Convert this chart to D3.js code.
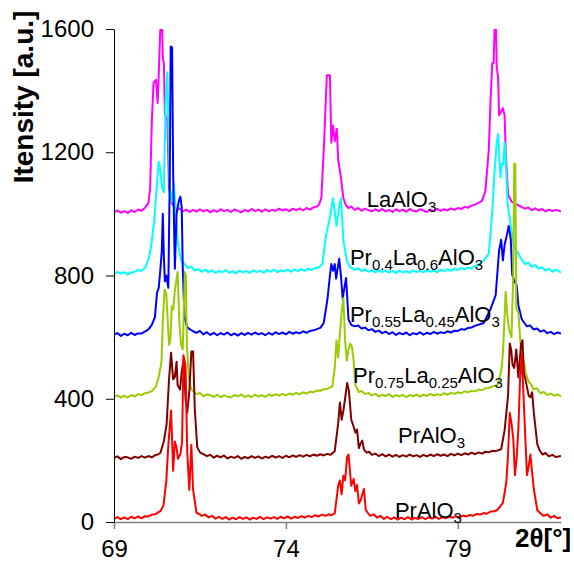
<!DOCTYPE html>
<html>
<head>
<meta charset="utf-8">
<script src="https://cdn.jsdelivr.net/npm/d3@7"></script>
<style>
  body { margin: 0; background: #fff; }
  svg { display: block; font-family: "Liberation Sans", Arial, sans-serif; }
</style>
</head>
<body>
<div id="chart"></div>
<script>
// tick labels
const xTicks = [69, 74, 79]
const yTicks = [0, 400, 800, 1200, 1600]

// series labels, [text, isSubscript]
const labelParts = [
    [['LaAlO', 0], ['3', 1]],
    [['Pr', 0], ['0.4', 1], ['La', 0], ['0.6', 1], ['AlO', 0], ['3', 1]],
    [['Pr', 0], ['0.55', 1], ['La', 0], ['0.45', 1], ['AlO', 0], ['3', 1]],
    [['Pr', 0], ['0.75', 1], ['La', 0], ['0.25', 1], ['AlO', 0], ['3', 1]],
    [['PrAlO', 0], ['3', 1]],
    [['PrAlO', 0], ['3', 1]]
]

// patterns, [2theta, intensity] (already offset)
const laAlO3 = [
    [69.0, 1005], [69.1, 1011], [69.2, 1004], [69.3, 1009], [69.4, 1003], [69.5, 1012], [69.6, 1006], [69.7, 1014],
    [69.8, 1010], [69.9, 1020], [70.0, 1035], [70.05, 1080],
    [70.1, 1300], [70.15, 1426], [70.22, 1435], [70.27, 1360], [70.31, 1480], [70.35, 1610], [70.4, 1610], [70.42, 1504],
    [70.45, 1490], [70.48, 1325], [70.55, 1305], [70.6, 1085], [70.68, 1035], [70.75, 1023], [70.82, 1012], [70.9, 1018],
    [71.0, 1008], [71.1, 1014], [71.2, 1006], [71.3, 1013], [71.4, 1007], [71.5, 1015], [71.6, 1008], [71.7, 1013],
    [71.8, 1005], [71.9, 1012], [72.0, 1007], [72.1, 1015], [72.2, 1009], [72.3, 1013], [72.4, 1006], [72.5, 1014],
    [72.6, 1010], [72.7, 1005], [72.8, 1013], [72.9, 1008], [73.0, 1016], [73.1, 1009], [73.2, 1014], [73.3, 1007],
    [73.4, 1015], [73.5, 1008], [73.6, 1013], [73.7, 1010], [73.8, 1017], [73.9, 1011], [74.0, 1015], [74.1, 1009],
    [74.2, 1017], [74.3, 1012], [74.4, 1018], [74.5, 1011], [74.6, 1019], [74.7, 1014], [74.8, 1021], [74.9, 1024],
    [74.96, 1030], [75.03, 1051], [75.11, 1231], [75.19, 1450], [75.28, 1450],
    [75.32, 1231], [75.37, 1287], [75.42, 1236], [75.48, 1276], [75.52, 1175], [75.6, 1118], [75.67, 1051], [75.75, 1027],
    [75.82, 1019], [75.9, 1024], [76.0, 1013], [76.1, 1019], [76.2, 1010], [76.3, 1017], [76.4, 1012], [76.5, 1008],
    [76.6, 1015], [76.7, 1009], [76.8, 1016], [76.9, 1008], [77.0, 1013], [77.1, 1006], [77.2, 1015], [77.3, 1009],
    [77.4, 1014], [77.5, 1007], [77.6, 1016], [77.7, 1010], [77.8, 1008], [77.9, 1015], [78.0, 1011], [78.1, 1006],
    [78.2, 1014], [78.3, 1009], [78.4, 1016], [78.5, 1010], [78.6, 1015], [78.7, 1011], [78.8, 1018], [78.9, 1013],
    [79.0, 1019], [79.1, 1016], [79.2, 1023], [79.3, 1020], [79.4, 1027], [79.5, 1030], [79.6, 1036], [79.7, 1042],
    [79.8, 1073], [79.9, 1208], [79.95, 1366],
    [80.0, 1489], [80.04, 1489], [80.07, 1610], [80.11, 1610], [80.13, 1478], [80.17, 1444], [80.2, 1320], [80.26, 1332],
    [80.31, 1343], [80.36, 1320], [80.39, 1208], [80.46, 1062], [80.56, 1040], [80.66, 1033], [80.76, 1028], [80.86, 1022],
    [80.95, 1017], [81.05, 1021], [81.15, 1012], [81.25, 1018], [81.35, 1011], [81.45, 1016], [81.55, 1008], [81.65, 1014],
    [81.75, 1009], [81.85, 1013], [82.0, 1008]
]
const pr04La06 = [
    [69.0, 805], [69.1, 812], [69.2, 806], [69.3, 811], [69.4, 803], [69.5, 810], [69.6, 812], [69.7, 818],
    [69.8, 815], [69.9, 825], [70.0, 850], [70.08, 894],
    [70.17, 978], [70.23, 1068], [70.3, 1169], [70.34, 1147], [70.4, 1085], [70.45, 1070], [70.5, 1359], [70.55, 1460],
    [70.58, 1300], [70.62, 1085], [70.68, 1040], [70.74, 1100], [70.8, 1000], [70.85, 912], [70.91, 870], [70.97, 845],
    [71.05, 838], [71.15, 824], [71.25, 829], [71.35, 816], [71.45, 821], [71.55, 812], [71.65, 819], [71.75, 811],
    [71.85, 817], [71.95, 808], [72.05, 815], [72.15, 810], [72.25, 818], [72.35, 809], [72.45, 814], [72.55, 807],
    [72.65, 816], [72.75, 810], [72.85, 815], [72.95, 808], [73.05, 817], [73.15, 811], [73.25, 816], [73.35, 809],
    [73.45, 818], [73.55, 812], [73.65, 819], [73.75, 811], [73.85, 817], [73.95, 813], [74.05, 819], [74.15, 812],
    [74.25, 820], [74.35, 814], [74.45, 821], [74.55, 815], [74.65, 822], [74.75, 818], [74.85, 824], [74.95, 826],
    [75.06, 837], [75.16, 927], [75.27, 983], [75.37, 1051], [75.42, 1006],
    [75.47, 961], [75.54, 1017], [75.6, 1051], [75.67, 916], [75.77, 849], [75.85, 830], [75.92, 824], [76.0, 818],
    [76.1, 824], [76.2, 814], [76.3, 820], [76.4, 812], [76.5, 818], [76.6, 810], [76.7, 817], [76.8, 811],
    [76.9, 816], [77.0, 809], [77.1, 815], [77.2, 808], [77.3, 816], [77.4, 810], [77.5, 814], [77.6, 809],
    [77.7, 817], [77.8, 811], [77.9, 815], [78.0, 810], [78.1, 818], [78.2, 812], [78.3, 816], [78.4, 811],
    [78.5, 819], [78.6, 814], [78.7, 820], [78.8, 815], [78.9, 822], [79.0, 818], [79.1, 824], [79.2, 820],
    [79.3, 826], [79.4, 823], [79.5, 830], [79.6, 835], [79.75, 849], [79.9, 871],
    [80.0, 1006], [80.07, 1141], [80.13, 1231], [80.17, 1259], [80.24, 1118], [80.28, 1163],
    [80.32, 1160], [80.36, 1231], [80.39, 1190], [80.44, 1040], [80.51, 983], [80.61, 905], [80.68, 884], [80.76, 871],
    [80.86, 852], [80.96, 837], [81.05, 842], [81.15, 828], [81.25, 834], [81.35, 822], [81.45, 827], [81.55, 816],
    [81.65, 822], [81.75, 812], [81.85, 818], [82.0, 810]
]
const pr055La045 = [
    [69.0, 608], [69.1, 613], [69.2, 604], [69.3, 611], [69.4, 606], [69.5, 614], [69.6, 607], [69.7, 612],
    [69.8, 612], [69.9, 618], [70.0, 625], [70.1, 640],
    [70.19, 665], [70.25, 743], [70.3, 760], [70.35, 822], [70.39, 880], [70.42, 1000], [70.45, 860], [70.48, 781],
    [70.52, 800], [70.58, 760], [70.62, 1100], [70.65, 1543], [70.69, 1540], [70.72, 1135], [70.77, 822], [70.82, 1000],
    [70.88, 1040], [70.93, 1056], [70.97, 1020], [71.0, 822], [71.05, 665], [71.13, 632], [71.2, 626], [71.3, 619],
    [71.4, 614], [71.5, 620], [71.6, 609], [71.7, 616], [71.8, 607], [71.9, 614], [72.0, 606], [72.1, 613],
    [72.2, 608], [72.3, 615], [72.4, 606], [72.5, 612], [72.6, 605], [72.7, 613], [72.8, 607], [72.9, 614],
    [73.0, 608], [73.1, 615], [73.2, 609], [73.3, 613], [73.4, 606], [73.5, 614], [73.6, 608], [73.7, 616],
    [73.8, 610], [73.9, 615], [74.0, 609], [74.1, 617], [74.2, 611], [74.3, 616], [74.4, 612], [74.5, 619],
    [74.6, 614], [74.7, 620], [74.8, 622], [74.9, 626], [75.0, 630], [75.1, 646],
    [75.21, 725], [75.28, 800], [75.32, 837], [75.37, 815], [75.42, 837],
    [75.46, 790], [75.5, 820], [75.55, 854], [75.6, 800], [75.65, 725], [75.7, 760], [75.75, 792], [75.82, 657],
    [75.9, 640], [76.0, 635], [76.1, 638], [76.2, 628], [76.3, 631], [76.4, 622], [76.5, 626], [76.6, 617],
    [76.7, 621], [76.8, 613], [76.9, 618], [77.0, 610], [77.1, 616], [77.2, 607], [77.3, 614], [77.4, 609],
    [77.5, 615], [77.6, 606], [77.7, 613], [77.8, 609], [77.9, 616], [78.0, 608], [78.1, 614], [78.2, 610],
    [78.3, 617], [78.4, 611], [78.5, 616], [78.6, 613], [78.7, 619], [78.8, 615], [78.9, 621], [79.0, 620],
    [79.1, 626], [79.2, 624], [79.3, 630], [79.4, 631], [79.5, 637], [79.6, 640], [79.75, 646],
    [79.85, 668], [79.95, 691], [80.1, 736], [80.2, 882],
    [80.26, 916], [80.31, 849], [80.36, 900], [80.44, 939], [80.48, 961], [80.54, 916], [80.58, 804], [80.64, 781],
    [80.71, 770], [80.76, 703], [80.86, 658], [80.94, 645], [81.01, 635], [81.1, 638], [81.2, 625], [81.3, 628],
    [81.4, 618], [81.5, 622], [81.6, 613], [81.7, 617], [81.8, 610], [81.9, 615], [82.0, 612]
]
const pr075La025 = [
    [69.0, 405], [69.1, 411], [69.2, 404], [69.3, 410], [69.4, 404], [69.5, 412], [69.6, 408], [69.7, 415],
    [69.8, 412], [69.9, 418], [70.0, 420], [70.1, 425], [70.22, 440],
    [70.3, 470], [70.38, 519], [70.42, 653], [70.47, 754], [70.52, 742], [70.57, 640], [70.6, 575], [70.64, 590],
    [70.68, 700], [70.72, 690], [70.78, 760], [70.85, 811], [70.9, 650], [70.95, 575], [71.0, 560], [71.06, 811],
    [71.09, 800], [71.12, 575], [71.18, 463], [71.25, 430], [71.32, 424], [71.4, 415], [71.5, 419], [71.6, 408],
    [71.7, 414], [71.8, 412], [71.9, 406], [72.0, 413], [72.1, 405], [72.2, 411], [72.3, 407], [72.4, 404],
    [72.5, 412], [72.6, 408], [72.7, 414], [72.8, 406], [72.9, 411], [73.0, 405], [73.1, 413], [73.2, 407],
    [73.3, 412], [73.4, 406], [73.5, 414], [73.6, 409], [73.7, 415], [73.8, 410], [73.9, 416], [74.0, 411],
    [74.1, 417], [74.2, 413], [74.3, 419], [74.4, 414], [74.5, 421], [74.6, 417], [74.7, 423], [74.8, 421],
    [74.9, 427], [75.0, 426], [75.1, 431], [75.2, 432], [75.3, 438],
    [75.35, 440], [75.42, 500], [75.47, 590], [75.52, 534], [75.57, 612], [75.62, 680], [75.67, 727], [75.72, 590],
    [75.77, 523], [75.82, 560], [75.87, 579], [75.92, 568], [75.97, 523], [76.02, 444], [76.12, 422], [76.2, 425],
    [76.3, 415], [76.4, 419], [76.5, 411], [76.6, 416], [76.7, 407], [76.8, 413], [76.9, 409], [77.0, 415],
    [77.1, 406], [77.2, 412], [77.3, 408], [77.4, 413], [77.5, 405], [77.6, 412], [77.7, 408], [77.8, 414],
    [77.9, 407], [78.0, 413], [78.1, 409], [78.2, 416], [78.3, 410], [78.4, 415], [78.5, 411], [78.6, 418],
    [78.7, 413], [78.8, 419], [78.9, 416], [79.0, 421], [79.1, 418], [79.2, 424], [79.3, 421], [79.4, 426],
    [79.5, 424], [79.6, 430], [79.7, 428], [79.8, 434], [79.9, 435], [80.0, 440],
    [80.15, 444], [80.26, 489], [80.31, 545], [80.36, 669], [80.39, 747], [80.44, 669],
    [80.5, 620], [80.56, 600], [80.61, 800], [80.64, 1163], [80.67, 1163], [80.7, 691], [80.76, 680], [80.81, 600],
    [80.86, 534], [80.92, 520], [80.98, 480], [81.06, 455], [81.13, 447], [81.2, 430], [81.3, 434], [81.4, 418],
    [81.5, 422], [81.6, 412], [81.7, 417], [81.8, 410], [81.9, 414], [82.0, 408]
]
const prAlO3a = [
    [69.0, 208], [69.1, 213], [69.2, 204], [69.3, 211], [69.4, 210], [69.5, 205], [69.6, 212], [69.7, 208],
    [69.8, 214], [69.9, 209], [70.0, 214], [70.1, 210], [70.2, 217], [70.28, 219], [70.35, 225],
    [70.45, 262], [70.53, 317], [70.6, 463], [70.66, 549], [70.72, 463], [70.77, 470], [70.82, 520], [70.85, 444],
    [70.92, 430], [70.97, 488], [71.03, 530], [71.08, 400], [71.13, 355], [71.19, 422], [71.25, 553], [71.3, 553],
    [71.35, 366], [71.42, 243], [71.5, 226], [71.6, 220], [71.7, 214], [71.8, 218], [71.9, 209], [72.0, 215],
    [72.1, 210], [72.2, 216], [72.3, 206], [72.4, 212], [72.5, 208], [72.6, 214], [72.7, 205], [72.8, 211],
    [72.9, 207], [73.0, 214], [73.1, 208], [73.2, 213], [73.3, 206], [73.4, 212], [73.5, 208], [73.6, 215],
    [73.7, 209], [73.8, 214], [73.9, 208], [74.0, 215], [74.1, 210], [74.2, 216], [74.3, 211], [74.4, 217],
    [74.5, 212], [74.6, 218], [74.7, 213], [74.8, 219], [74.9, 215], [75.0, 220], [75.1, 216], [75.2, 221],
    [75.3, 218], [75.42, 230], [75.52, 320],
    [75.57, 388], [75.62, 332], [75.67, 360], [75.72, 400], [75.78, 451], [75.83, 427], [75.9, 332], [75.97, 309],
    [76.02, 290], [76.07, 300], [76.12, 240], [76.17, 255], [76.22, 264], [76.27, 235], [76.35, 225], [76.42, 228],
    [76.5, 218], [76.6, 222], [76.7, 214], [76.8, 220], [76.9, 213], [77.0, 219], [77.1, 212], [77.2, 218],
    [77.3, 211], [77.4, 217], [77.5, 212], [77.6, 219], [77.7, 213], [77.8, 217], [77.9, 211], [78.0, 218],
    [78.1, 213], [78.2, 219], [78.3, 214], [78.4, 220], [78.5, 215], [78.6, 219], [78.7, 214], [78.8, 221],
    [78.9, 216], [79.0, 222], [79.1, 217], [79.2, 223], [79.3, 219], [79.4, 225], [79.5, 220], [79.6, 226],
    [79.7, 222], [79.8, 228], [79.9, 226], [80.0, 231], [80.1, 230],
    [80.26, 236], [80.36, 298], [80.46, 410], [80.51, 579], [80.55, 560], [80.59, 511],
    [80.64, 500], [80.7, 560], [80.76, 470], [80.84, 579], [80.88, 590], [80.92, 480], [80.96, 466], [81.06, 410],
    [81.11, 405], [81.16, 421], [81.21, 354], [81.31, 253], [81.38, 232], [81.46, 219], [81.55, 224], [81.65, 213],
    [81.75, 218], [81.85, 211], [82.0, 214]
]
const prAlO3b = [
    [69.0, 10], [69.1, 16], [69.2, 9], [69.3, 15], [69.4, 9], [69.5, 17], [69.6, 12], [69.7, 18],
    [69.8, 12], [69.9, 19], [70.0, 18], [70.1, 24], [70.2, 25], [70.28, 31], [70.35, 35],
    [70.44, 54], [70.52, 132], [70.58, 250], [70.66, 362], [70.72, 166], [70.77, 261], [70.82, 240], [70.86, 205],
    [70.93, 220], [70.98, 261], [71.02, 541], [71.08, 508], [71.13, 227], [71.19, 104], [71.25, 250], [71.3, 104],
    [71.4, 30], [71.48, 26], [71.55, 20], [71.65, 24], [71.75, 15], [71.85, 20], [71.95, 11], [72.05, 17],
    [72.15, 10], [72.25, 16], [72.35, 8], [72.45, 14], [72.55, 9], [72.65, 16], [72.75, 10], [72.85, 15],
    [72.95, 8], [73.05, 14], [73.15, 10], [73.25, 17], [73.35, 9], [73.45, 15], [73.55, 11], [73.65, 16],
    [73.75, 10], [73.85, 17], [73.95, 12], [74.05, 18], [74.15, 11], [74.25, 17], [74.35, 13], [74.45, 19],
    [74.55, 14], [74.65, 20], [74.75, 16], [74.85, 22], [74.95, 18], [75.05, 24], [75.15, 20], [75.25, 25],
    [75.32, 22], [75.42, 28], [75.52, 118], [75.57, 135],
    [75.62, 90], [75.67, 150], [75.72, 135], [75.78, 212], [75.82, 219], [75.9, 118], [75.97, 140], [76.02, 100],
    [76.07, 120], [76.12, 60], [76.17, 70], [76.27, 107], [76.32, 40], [76.38, 30], [76.45, 20], [76.55, 25],
    [76.65, 14], [76.75, 20], [76.85, 10], [76.95, 17], [77.05, 9], [77.15, 15], [77.25, 8], [77.35, 14],
    [77.45, 9], [77.55, 16], [77.65, 8], [77.75, 13], [77.85, 10], [77.95, 16], [78.05, 9], [78.15, 15],
    [78.25, 11], [78.35, 17], [78.45, 10], [78.55, 16], [78.65, 12], [78.75, 18], [78.85, 14], [78.95, 19],
    [79.05, 15], [79.15, 21], [79.25, 18], [79.35, 23], [79.45, 20], [79.55, 26], [79.65, 24], [79.75, 29],
    [79.85, 27], [79.95, 34], [80.05, 35],
    [80.15, 39], [80.31, 62], [80.41, 129], [80.46, 219], [80.51, 354], [80.56, 320], [80.61, 275], [80.66, 152],
    [80.71, 208], [80.76, 300], [80.81, 466], [80.86, 545], [80.91, 410], [80.96, 280], [81.01, 152], [81.06, 180],
    [81.11, 219], [81.16, 160], [81.21, 107], [81.31, 39], [81.4, 28], [81.5, 20], [81.6, 25], [81.7, 14],
    [81.8, 20], [81.9, 12], [82.0, 15]
]

// drawing order: last one ends up on top
const series = [laAlO3, pr04La06, pr055La045, pr075La025, prAlO3a, prAlO3b]
const colors = ['#ff00ff', '#00ffff', '#0000ff', '#99cc00', '#800000', '#ff0000']
// where each label sits, in data units
const labelAt = [[76.35, 1022], [75.86, 834], [75.86, 649], [75.95, 451], [77.26, 256], [77.17, 13]]

function draw() {
    const dims = {
        width: 574,
        height: 563,
        margin: { top: 29, bottom: 41, left: 114, right: 13 }
    }
    const w = dims.width - dims.margin.left - dims.margin.right
    const h = dims.height - dims.margin.top - dims.margin.bottom

    const svg = d3.select('#chart')
        .append('svg')
        .attr('width', dims.width)
        .attr('height', dims.height)

    const ctr = svg.append('g')
        .attr('transform', `translate(${dims.margin.left}, ${dims.margin.top})`)

    const x = d3.scaleLinear().domain([69, 82]).range([0, w])
    const y = d3.scaleLinear().domain([0, 1600]).range([h, 0])

    svg.append('defs').append('clipPath').attr('id', 'plot')
        .append('rect').attr('width', w).attr('height', h)

    // x axis, grey
    const xAxis = ctr.append('g')
        .attr('transform', `translate(0, ${h})`)
        .call(d3.axisBottom(x).tickValues(xTicks).tickSize(7).tickSizeOuter(0).tickPadding(11))
    xAxis.selectAll('path, line').attr('stroke', '#808080').attr('stroke-width', 1.5)
    xAxis.selectAll('text').attr('font-size', 24).attr('fill', '#000')
        .attr('font-family', '"Liberation Sans", Arial, sans-serif')

    // series
    const line = d3.line().x(d => x(d[0])).y(d => y(d[1]))
    ctr.append('g').attr('clip-path', 'url(#plot)')
        .selectAll('path')
        .data(series)
        .join('path')
        .attr('d', line)
        .attr('fill', 'none')
        .attr('stroke', (d, i) => colors[i])
        .attr('stroke-width', 2)
        .attr('stroke-linejoin', 'round')

    // y axis
    const yAxis = ctr.append('g')
        .call(d3.axisLeft(y).tickValues(yTicks).tickFormat(d3.format('d'))
            .tickSize(8).tickSizeOuter(0).tickPadding(12))
    yAxis.selectAll('path, line').attr('stroke', '#000')
    yAxis.selectAll('text').attr('font-size', 24).attr('fill', '#000')
        .attr('font-family', '"Liberation Sans", Arial, sans-serif')

    // labels with subscripts
    labelParts.forEach((parts, i) => {
        const t = ctr.append('text')
            .attr('x', x(labelAt[i][0]))
            .attr('y', y(labelAt[i][1]))
            .attr('font-size', 22)
            .attr('fill', '#000')
        let sub = false
        parts.forEach(p => {
            let dy = 0
            if (p[1] && !sub) dy = 5
            if (!p[1] && sub) dy = -5
            sub = !!p[1]
            t.append('tspan')
                .attr('dy', dy)
                .attr('font-size', p[1] ? 15 : 22)
                .text(p[0])
        })
    })

    // axis titles
    svg.append('text')
        .attr('transform', 'translate(33, 97) rotate(-90)')
        .attr('text-anchor', 'middle')
        .attr('font-size', 28)
        .attr('font-weight', 'bold')
        .text('Itensity [a.u.]')

    svg.append('text')
        .attr('x', 515)
        .attr('y', 547)
        .attr('font-size', 26)
        .attr('font-weight', 'bold')
        .text('2θ[°]')
}

draw()
</script>
</body>
</html>
